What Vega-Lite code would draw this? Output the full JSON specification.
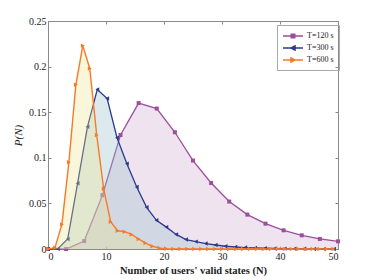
{
  "$schema": "https://vega.github.io/schema/vega-lite/v6.json",
  "width": 290,
  "height": 228,
  "autosize": {"type": "none"},
  "padding": {"left": 48, "top": 21, "right": 36, "bottom": 31},
  "config": {
    "font": "Liberation Serif",
    "view": {"stroke": "#8a8a8a", "strokeWidth": 1},
    "axis": {"grid": false, "domainColor": "#8a8a8a", "tickColor": "#8a8a8a", "labelColor": "#222", "titleColor": "#222", "labelFont": "Liberation Serif", "titleFont": "Liberation Serif", "labelFontSize": 10, "tickSize": -3, "labelPadding": 5},
    "legend": {"symbolOffset": 5}
  },
  "datasets": {
    "d": [
      {"s": "T=120 s", "N": 0, "P": 0},
      {"s": "T=120 s", "N": 3.125, "P": 0},
      {"s": "T=120 s", "N": 6.25, "P": 0.0088},
      {"s": "T=120 s", "N": 9.375, "P": 0.059},
      {"s": "T=120 s", "N": 12.5, "P": 0.125},
      {"s": "T=120 s", "N": 15.625, "P": 0.160},
      {"s": "T=120 s", "N": 18.75, "P": 0.154},
      {"s": "T=120 s", "N": 21.875, "P": 0.128},
      {"s": "T=120 s", "N": 25, "P": 0.097},
      {"s": "T=120 s", "N": 28.125, "P": 0.0724},
      {"s": "T=120 s", "N": 31.25, "P": 0.052},
      {"s": "T=120 s", "N": 34.375, "P": 0.0377},
      {"s": "T=120 s", "N": 37.5, "P": 0.0278},
      {"s": "T=120 s", "N": 40.625, "P": 0.0205},
      {"s": "T=120 s", "N": 43.75, "P": 0.015},
      {"s": "T=120 s", "N": 46.875, "P": 0.011},
      {"s": "T=120 s", "N": 50, "P": 0.0084},

      {"s": "T=300 s", "N": 0, "P": 0},
      {"s": "T=300 s", "N": 1.7, "P": 0.0003},
      {"s": "T=300 s", "N": 3.4, "P": 0.011},
      {"s": "T=300 s", "N": 5.1, "P": 0.072},
      {"s": "T=300 s", "N": 6.8, "P": 0.134},
      {"s": "T=300 s", "N": 8.5, "P": 0.175},
      {"s": "T=300 s", "N": 10.2, "P": 0.165},
      {"s": "T=300 s", "N": 11.9, "P": 0.122},
      {"s": "T=300 s", "N": 13.6, "P": 0.0936},
      {"s": "T=300 s", "N": 15.3, "P": 0.068},
      {"s": "T=300 s", "N": 17.0, "P": 0.0457},
      {"s": "T=300 s", "N": 18.7, "P": 0.0315},
      {"s": "T=300 s", "N": 20.4, "P": 0.024},
      {"s": "T=300 s", "N": 22.1, "P": 0.016},
      {"s": "T=300 s", "N": 23.8, "P": 0.0103},
      {"s": "T=300 s", "N": 25.5, "P": 0.0081},
      {"s": "T=300 s", "N": 27.2, "P": 0.006},
      {"s": "T=300 s", "N": 28.9, "P": 0.0044},
      {"s": "T=300 s", "N": 30.6, "P": 0.003},
      {"s": "T=300 s", "N": 32.3, "P": 0.0022},
      {"s": "T=300 s", "N": 34.0, "P": 0.0016},
      {"s": "T=300 s", "N": 35.7, "P": 0.0012},
      {"s": "T=300 s", "N": 37.4, "P": 0.0009},
      {"s": "T=300 s", "N": 39.1, "P": 0.0006},
      {"s": "T=300 s", "N": 40.8, "P": 0.0004},
      {"s": "T=300 s", "N": 42.5, "P": 0.0003},
      {"s": "T=300 s", "N": 44.2, "P": 0.0002},
      {"s": "T=300 s", "N": 45.9, "P": 0.0001},
      {"s": "T=300 s", "N": 47.6, "P": 0.0001},
      {"s": "T=300 s", "N": 49.3, "P": 0},

      {"s": "T=600 s", "N": 0, "P": 0},
      {"s": "T=600 s", "N": 1.2, "P": 0.0015},
      {"s": "T=600 s", "N": 2.4, "P": 0.027},
      {"s": "T=600 s", "N": 3.6, "P": 0.095},
      {"s": "T=600 s", "N": 4.8, "P": 0.180},
      {"s": "T=600 s", "N": 6.0, "P": 0.223},
      {"s": "T=600 s", "N": 7.2, "P": 0.198},
      {"s": "T=600 s", "N": 8.4, "P": 0.125},
      {"s": "T=600 s", "N": 9.6, "P": 0.066},
      {"s": "T=600 s", "N": 10.8, "P": 0.030},
      {"s": "T=600 s", "N": 12.0, "P": 0.020},
      {"s": "T=600 s", "N": 13.2, "P": 0.019},
      {"s": "T=600 s", "N": 14.4, "P": 0.016},
      {"s": "T=600 s", "N": 15.6, "P": 0.011},
      {"s": "T=600 s", "N": 16.8, "P": 0.0065},
      {"s": "T=600 s", "N": 18.0, "P": 0.003},
      {"s": "T=600 s", "N": 19.2, "P": 0.001},
      {"s": "T=600 s", "N": 20.4, "P": 0.0003},
      {"s": "T=600 s", "N": 21.6, "P": 0.0001},
      {"s": "T=600 s", "N": 22.8, "P": 0},
      {"s": "T=600 s", "N": 24.0, "P": 0},
      {"s": "T=600 s", "N": 25.2, "P": 0},
      {"s": "T=600 s", "N": 26.4, "P": 0},
      {"s": "T=600 s", "N": 27.6, "P": 0},
      {"s": "T=600 s", "N": 28.8, "P": 0},
      {"s": "T=600 s", "N": 30.0, "P": 0},
      {"s": "T=600 s", "N": 31.2, "P": 0},
      {"s": "T=600 s", "N": 32.4, "P": 0},
      {"s": "T=600 s", "N": 33.6, "P": 0},
      {"s": "T=600 s", "N": 34.8, "P": 0},
      {"s": "T=600 s", "N": 36.0, "P": 0},
      {"s": "T=600 s", "N": 37.2, "P": 0},
      {"s": "T=600 s", "N": 38.4, "P": 0},
      {"s": "T=600 s", "N": 39.6, "P": 0},
      {"s": "T=600 s", "N": 40.8, "P": 0},
      {"s": "T=600 s", "N": 42.0, "P": 0},
      {"s": "T=600 s", "N": 43.2, "P": 0},
      {"s": "T=600 s", "N": 44.4, "P": 0},
      {"s": "T=600 s", "N": 45.6, "P": 0},
      {"s": "T=600 s", "N": 46.8, "P": 0},
      {"s": "T=600 s", "N": 48.0, "P": 0},
      {"s": "T=600 s", "N": 49.2, "P": 0}
    ]
  },
  "data": {"name": "d"},
  "layer": [
    {
      "encoding": {
        "x": {"field": "N", "type": "quantitative", "scale": {"domain": [0, 50], "nice": false},
              "axis": {"values": [0, 10, 20, 30, 40, 50], "title": "Number of users' valid states (N)", "titleFontWeight": "bold", "titleFontSize": 10.5, "titlePadding": 4}},
        "y": {"field": "P", "type": "quantitative", "scale": {"domain": [0, 0.25], "nice": false},
              "axis": {"values": [0, 0.05, 0.1, 0.15, 0.2, 0.25], "format": "~g", "title": "P(N)", "titleFontStyle": "italic", "titleFontWeight": "normal", "titleFontSize": 11, "titlePadding": 5}}
      },
      "layer": [
        {"transform": [{"filter": "datum.s === 'T=120 s'"}], "mark": {"type": "area", "color": "#d9bddb", "opacity": 0.42}},
        {"transform": [{"filter": "datum.s === 'T=120 s'"}], "mark": {"type": "line", "color": "#9c4f9c", "strokeWidth": 1.3}},
        {"transform": [{"filter": "datum.s === 'T=120 s'"}], "mark": {"type": "point", "shape": "square", "filled": true, "color": "#9c4f9c", "size": 16, "opacity": 1}},
        {"transform": [{"filter": "datum.s === 'T=300 s'"}], "mark": {"type": "area", "color": "#9cc3cf", "opacity": 0.35}},
        {"transform": [{"filter": "datum.s === 'T=300 s'"}], "mark": {"type": "line", "color": "#2c3a8c", "strokeWidth": 1.3}},
        {"transform": [{"filter": "datum.s === 'T=300 s'"}], "mark": {"type": "point", "shape": "triangle-left", "filled": true, "color": "#2c3a8c", "size": 20, "opacity": 1}},
        {"transform": [{"filter": "datum.s === 'T=600 s'"}], "mark": {"type": "area", "color": "#ebe48a", "opacity": 0.32}},
        {"transform": [{"filter": "datum.s === 'T=600 s'"}], "mark": {"type": "line", "color": "#f47a2c", "strokeWidth": 1.4}},
        {"transform": [{"filter": "datum.s === 'T=600 s'"}], "mark": {"type": "point", "shape": "triangle-right", "filled": true, "color": "#f47a2c", "size": 20, "opacity": 1}}
      ]
    },
    {
      "transform": [{"filter": "datum.N < 0"}],
      "mark": {"type": "point", "filled": true, "strokeWidth": 1.3, "opacity": 1},
      "encoding": {
        "x": {"field": "N", "type": "quantitative", "scale": {"domain": [0, 50], "nice": false}, "axis": {"orient": "top", "labels": false, "title": null, "values": [0, 10, 20, 30, 40, 50]}},
        "y": {"field": "P", "type": "quantitative", "scale": {"domain": [0, 0.25], "nice": false}, "axis": {"orient": "right", "labels": false, "title": null, "values": [0, 0.05, 0.1, 0.15, 0.2, 0.25]}},
        "shape": {"field": "s", "type": "nominal", "scale": {"domain": ["T=120 s", "T=300 s", "T=600 s"], "range": ["M-2,0H2M-0.38,-0.38H0.38V0.38H-0.38Z", "M-2,0H2M-0.48,0L0.42,-0.44L0.42,0.44Z", "M-2,0H2M0.48,0L-0.42,-0.44L-0.42,0.44Z"]},
                  "legend": {"title": null, "orient": "none", "legendX": 229, "legendY": 4, "symbolSize": 100, "labelFontSize": 8, "labelFont": "Liberation Serif", "labelColor": "#222", "strokeColor": "#aaaaaa", "padding": 5, "rowPadding": 1, "labelOffset": 8, "symbolStrokeWidth": 1.3}},
        "fill": {"field": "s", "type": "nominal", "scale": {"domain": ["T=120 s", "T=300 s", "T=600 s"], "range": ["#9c4f9c", "#2c3a8c", "#f47a2c"]}, "legend": {"title": null, "orient": "none", "legendX": 229, "legendY": 4, "symbolSize": 100, "labelFontSize": 8, "labelFont": "Liberation Serif", "labelColor": "#222", "strokeColor": "#aaaaaa", "padding": 5, "rowPadding": 1, "labelOffset": 8, "symbolStrokeWidth": 1.3}},
        "stroke": {"field": "s", "type": "nominal", "scale": {"domain": ["T=120 s", "T=300 s", "T=600 s"], "range": ["#9c4f9c", "#2c3a8c", "#f47a2c"]}, "legend": {"title": null, "orient": "none", "legendX": 229, "legendY": 4, "symbolSize": 100, "labelFontSize": 8, "labelFont": "Liberation Serif", "labelColor": "#222", "strokeColor": "#aaaaaa", "padding": 5, "rowPadding": 1, "labelOffset": 8, "symbolStrokeWidth": 1.3}}
      }
    }
  ],
  "resolve": {"axis": {"x": "independent", "y": "independent"}}
}
